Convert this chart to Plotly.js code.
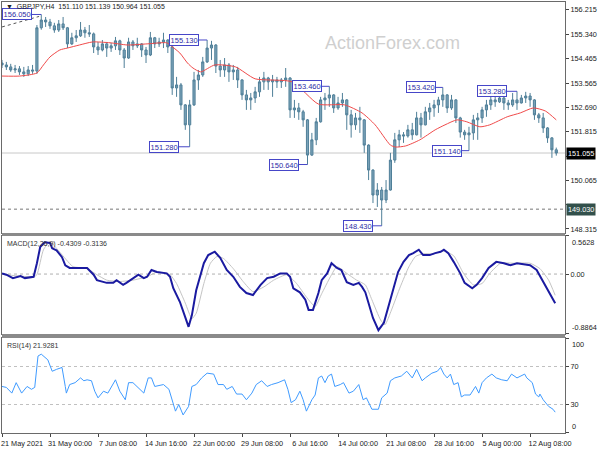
<!DOCTYPE html>
<html><head><meta charset="utf-8">
<script src="https://cdn.plot.ly/plotly-3.0.1.min.js"></script>
<style>html,body{margin:0;padding:0;background:#fff}#chart{width:600px;height:450px}</style>
</head><body><div id="chart"></div>
<script>
// ---------- data ----------
const symbolTitle = "GBPJPY,H4";
const lastBarOHLC = [151.110, 151.139, 150.964, 151.055];
const barsPerCandle = 4;           // each candle below aggregates 4 H4 bars
const opens = [154.30,154.23,154.16,154.05,154.09,153.98,153.91,154.05,154.01,155.57,
155.85,155.78,155.64,155.49,155.71,155.57,154.99,155.21,155.28,155.49,
155.39,155.35,154.88,154.77,154.99,154.84,154.92,155.10,154.77,154.48,
155.06,154.92,154.99,154.77,154.59,155.21,154.99,155.06,155.13,154.88,
153.40,153.51,152.79,152.07,152.79,153.69,153.87,154.34,154.84,154.95,
154.19,154.05,154.23,153.98,154.05,153.69,153.15,152.97,153.04,153.26,
153.62,153.76,153.62,153.69,153.62,153.69,153.76,152.61,152.68,152.54,
152.25,150.98,151.53,152.18,152.97,153.04,153.15,152.68,152.86,152.97,
152.43,152.07,152.32,152.25,151.34,150.44,149.54,149.72,149.36,149.72,
150.80,151.53,151.71,151.67,151.89,151.71,152.32,152.07,152.54,152.68,
152.79,152.97,153.15,152.68,152.97,152.32,151.81,151.71,151.78,152.25,
152.32,152.61,152.79,152.97,152.90,153.04,152.86,152.79,152.97,152.86,
153.04,153.11,152.97,152.43,152.32,151.96,151.60,151.17];
const highs = [154.41,154.34,154.27,154.23,154.19,154.16,154.19,154.23,155.67,156.05,
155.96,155.89,155.75,155.85,155.96,155.60,155.39,155.49,155.78,155.60,
155.67,155.40,155.06,155.13,155.06,155.03,155.24,155.14,154.84,155.21,
155.13,155.21,155.02,154.88,155.42,155.24,155.21,155.39,155.16,154.95,
153.80,153.58,152.82,152.97,153.98,154.05,154.52,155.13,155.10,154.98,
154.41,154.48,154.30,154.23,154.16,153.72,153.33,153.22,153.44,153.80,
153.98,153.80,153.87,153.80,153.76,154.12,153.79,152.97,152.86,152.61,
152.28,151.78,152.32,153.08,153.22,153.46,153.18,153.08,153.22,153.00,
152.61,152.50,152.72,152.28,151.37,150.47,149.97,149.83,150.08,151.06,
151.78,151.89,151.81,152.07,152.14,152.54,152.50,152.72,152.86,152.97,
153.08,153.42,153.18,153.15,153.00,152.36,151.89,152.00,152.43,152.50,
152.72,152.97,153.08,153.08,153.22,153.08,152.97,153.22,153.28,153.15,
153.26,153.22,153.00,152.50,152.50,151.99,151.63,151.25];
const lows = [154.12,154.05,153.98,153.94,153.87,153.80,153.83,153.91,153.91,155.50,
155.60,155.53,155.39,155.42,155.49,154.84,154.95,155.06,155.24,155.21,
155.24,154.66,154.59,154.72,154.52,154.70,154.77,154.59,154.12,154.45,
154.77,154.84,154.52,154.30,154.55,154.84,154.88,154.84,154.66,153.15,
153.08,152.61,151.89,151.28,152.75,153.33,153.80,154.30,154.41,153.94,
153.80,153.80,153.62,153.69,153.40,152.97,152.61,152.61,152.86,153.08,
153.33,153.33,153.08,153.40,153.40,153.44,152.32,152.32,152.25,152.00,
150.64,150.95,151.34,152.15,152.61,152.72,152.50,152.61,152.72,151.89,
151.61,151.89,151.78,151.06,150.08,149.25,149.11,148.43,149.25,149.70,
150.70,151.27,151.42,151.61,151.53,151.69,151.61,152.05,152.25,152.36,
152.50,152.72,152.50,152.61,152.14,151.61,151.53,151.14,151.53,151.53,
152.14,152.36,152.61,152.72,152.86,152.61,152.61,152.72,152.61,152.84,
152.86,152.72,152.25,152.14,151.78,151.42,150.88,150.96];
const closes = [154.23,154.16,154.05,154.09,153.98,153.91,154.05,154.01,155.57,155.85,
155.78,155.64,155.49,155.71,155.57,154.99,155.21,155.28,155.49,155.39,
155.35,154.88,154.77,154.99,154.84,154.92,155.10,154.77,154.48,155.06,
154.92,154.99,154.77,154.59,155.21,154.99,155.06,155.13,154.88,153.40,
153.51,152.79,152.07,152.79,153.69,153.87,154.34,154.84,154.95,154.19,
154.05,154.23,153.98,154.05,153.69,153.15,152.97,153.04,153.26,153.62,
153.76,153.62,153.69,153.62,153.69,153.76,152.61,152.68,152.54,152.25,
150.98,151.53,152.18,152.97,153.04,153.15,152.68,152.86,152.97,152.43,
152.07,152.32,152.25,151.34,150.44,149.54,149.72,149.36,149.72,150.80,
151.53,151.71,151.67,151.89,151.71,152.32,152.07,152.54,152.68,152.79,
152.97,153.15,152.68,152.97,152.32,151.81,151.71,151.78,152.25,152.32,
152.61,152.79,152.97,152.90,153.04,152.86,152.79,152.97,152.86,153.04,
153.11,152.97,152.43,152.32,151.96,151.60,151.17,151.055];

// moving average (bar index, price)
const maBars = [0,16,32,38,44,53,60,71,83,99,115,133,151,154,163,170,175,182,195,214,232,266,290,314,330,342,356,361,370,383,397,406,417,426,438,447,463,475,487,498,508];
const maValues = [153.83,153.83,153.94,154.23,154.52,154.77,154.84,154.95,155.06,155.03,154.95,154.99,155.03,154.95,154.66,154.30,154.12,153.98,154.23,154.16,153.73,153.62,152.82,152.79,152.50,152.07,151.34,151.27,151.31,151.53,151.89,152.07,152.25,152.18,152.00,152.07,152.36,152.50,152.68,152.57,152.25];

// MACD main line (bar index, value)
const macdBars = [0,4,10,17,21,29,32,35,39,44,46,50,55,58,62,72,78,84,87,96,102,105,111,114,120,125,130,133,137,142,151,154,157,163,168,171,174,178,185,189,195,200,206,212,218,224,230,237,243,249,255,261,264,267,273,278,281,285,290,293,298,302,307,311,316,322,327,330,333,336,340,345,350,354,359,363,368,373,377,382,386,392,397,402,405,409,414,420,424,431,435,440,446,453,460,466,472,484,490,495,501,507];
const macdValues = [0.01,-0.01,-0.06,-0.03,-0.06,-0.04,0.16,0.40,0.47,0.46,0.38,0.35,0.25,0.13,0.09,0.09,0.09,-0.01,-0.09,-0.13,-0.13,-0.09,-0.16,-0.13,-0.06,-0.01,-0.06,-0.04,0.06,0.03,0.01,-0.04,-0.21,-0.41,-0.64,-0.78,-0.61,-0.24,0.16,0.28,0.33,0.24,0.06,-0.04,-0.19,-0.28,-0.31,-0.16,-0.06,-0.04,0.01,0.01,-0.04,-0.21,-0.27,-0.38,-0.53,-0.53,-0.28,-0.09,0.01,0.16,0.09,0.06,-0.12,-0.16,-0.13,-0.19,-0.27,-0.43,-0.65,-0.83,-0.72,-0.49,-0.19,0.03,0.18,0.28,0.31,0.36,0.28,0.28,0.31,0.33,0.36,0.31,0.18,0.01,-0.13,-0.21,-0.16,-0.06,0.09,0.18,0.16,0.13,0.16,0.13,0.06,-0.09,-0.27,-0.4309];

// MACD signal line (bar index, value)
const signalBars = [0,4,29,32,38,44,50,59,65,78,87,96,108,120,133,142,154,160,168,174,178,185,191,197,203,212,221,230,240,249,261,270,279,287,293,301,307,316,325,333,339,347,351,357,365,373,379,386,395,405,414,423,432,440,447,457,469,484,493,501,507];
const signalValues = [0.01,-0.01,-0.04,-0.01,0.36,0.48,0.38,0.21,0.11,0.08,-0.01,-0.09,-0.11,-0.09,-0.04,0.03,-0.01,-0.14,-0.43,-0.66,-0.58,-0.14,0.16,0.26,0.23,0.08,-0.11,-0.26,-0.19,-0.09,-0.01,-0.14,-0.34,-0.48,-0.29,-0.04,0.11,0.01,-0.09,-0.16,-0.38,-0.68,-0.75,-0.53,-0.19,0.11,0.26,0.30,0.30,0.34,0.27,0.01,-0.16,-0.14,0.01,0.16,0.16,0.16,0.08,-0.09,-0.3136];

// RSI(14) (bar index, value)
const rsiBars = [0,4,9,13,18,23,27,30,33,36,42,46,50,55,58,59,62,67,72,75,78,82,85,88,93,97,104,108,113,116,120,125,130,134,137,140,148,153,156,159,162,166,171,174,178,183,188,194,198,203,206,211,215,220,224,229,233,238,243,247,253,259,262,265,269,273,276,279,284,287,290,293,296,299,302,305,310,313,318,322,327,331,334,339,345,348,353,356,360,366,371,376,380,385,388,394,399,402,405,408,411,414,418,421,424,429,434,437,440,444,449,453,458,463,467,472,479,481,486,489,492,493,496,501,505,507];
const rsiValues = [49,48,42,53,42,49,46,48,81,83,77,65,67,69,49,42,51,53,58,55,56,55,44,37,44,42,56,44,35,53,53,48,42,58,58,49,51,46,33,23,30,19,28,49,51,58,63,62,51,51,46,49,41,41,35,42,51,55,49,51,53,56,46,32,35,44,35,23,35,40,58,60,53,60,62,49,51,53,42,44,51,35,37,25,25,37,42,55,58,60,65,58,67,55,58,63,65,69,62,58,62,51,53,38,40,40,49,42,53,58,62,58,56,55,62,58,62,58,53,41,38,41,35,28,25,21.9281];

const trendBars = [0, 34];
const trendPrices = [155.60, 155.98];

const swingIdx  = [9, 47, 43, 70, 75, 87, 101, 107, 118];
const swingKind = ['H','H','L','L','H','L','H','L','H'];

const priceTicks = [156.215,155.340,154.465,153.565,152.690,151.815,150.940,150.065,149.190,148.315];
const macdRange = [-0.8864, 0.5628];
const rsiLevels = [70, 30];
const timeTickBars = [0,44,88,132,176,220,264,308,352,396,440,484];
const timeTickLabels = ["21 May 2021","31 May 00:00","7 Jun 08:00","14 Jun 16:00","22 Jun 00:00","29 Jun 08:00","6 Jul 16:00","14 Jul 00:00","21 Jul 08:00","28 Jul 16:00","5 Aug 00:00","12 Aug 08:00"];
const currentPrice = 151.055;
const supportLevel = 149.030;
const macdLast = [-0.4309, -0.3136];
const rsiLast = 21.9281;

// ---------- drawing ----------
const FONT = 'Liberation Sans, Arial, sans-serif';
const candleX = opens.map((_, i) => i * barsPerCandle);
const barColor = '#4f7f98';
const swingColor = '#4646c8';
const swingOffsets = [-24,-23,-26,-23.5,-22,-24,-22,-21.5,-25];

const traces = [
  {type:'scatter', mode:'lines', x:trendBars, y:trendPrices, xaxis:'x', yaxis:'y',
   line:{color:'#555', width:1, dash:'dot'}, hoverinfo:'skip'},
  {type:'candlestick', x:candleX, open:opens, high:highs, low:lows, close:closes, xaxis:'x', yaxis:'y',
   increasing:{line:{color:barColor, width:1}, fillcolor:'#7aa2b8'},
   decreasing:{line:{color:barColor, width:1}, fillcolor:'#7aa2b8'},
   hoverinfo:'skip'},
  {type:'scatter', mode:'lines', x:maBars, y:maValues, xaxis:'x', yaxis:'y',
   line:{color:'#f04a4a', width:1, shape:'spline', smoothing:0.6}, hoverinfo:'skip'},
  {type:'scatter', mode:'lines', x:signalBars, y:signalValues, xaxis:'x2', yaxis:'y2',
   line:{color:'#c4c4c4', width:1, shape:'spline', smoothing:0.5}, hoverinfo:'skip'},
  {type:'scatter', mode:'lines', x:macdBars, y:macdValues, xaxis:'x2', yaxis:'y2',
   line:{color:'#1a1aa0', width:2}, hoverinfo:'skip'},
  {type:'scatter', mode:'lines', x:rsiBars, y:rsiValues, xaxis:'x3', yaxis:'y3',
   line:{color:'#3f9bff', width:1}, hoverinfo:'skip'}
];

const viewRange = [0, 516];
const lineCol = '#6a6a6a';
const baseX = {range:viewRange, showgrid:false, zeroline:false, showline:true, mirror:true,
  linecolor:lineCol, linewidth:1, fixedrange:true, rangeslider:{visible:false}};
const baseY = {side:'right', showgrid:false, zeroline:false, showline:true, mirror:true,
  linecolor:lineCol, linewidth:1, ticks:'outside', ticklen:3, tickcolor:'#444',
  tickfont:{family:FONT, size:7.3, color:'#222'}, fixedrange:true};

// tick labels that sit under the two price tags are covered in the reference
const hiddenTickLabels = [150.940, 149.190];

const annotations = [];
// swing labels
swingIdx.forEach((k, i) => {
  const p = swingKind[i] === 'H' ? highs[k] : lows[k];
  annotations.push({x:candleX[k], y:p, xref:'x', yref:'y', text:p.toFixed(3),
    showarrow:true, arrowhead:0, arrowwidth:1, arrowcolor:swingColor, ax:swingOffsets[i], ay:0,
    font:{family:FONT, size:7.5, color:'#2c2ca6'}, bgcolor:'#ffffff', bordercolor:swingColor,
    borderwidth:1, borderpad:0.6});
});
// header
annotations.push({xref:'paper', yref:'y domain', x:0, y:1, xanchor:'left', yanchor:'top', xshift:2, yshift:1,
  text:'\u25BC  ' + symbolTitle + '  ' + lastBarOHLC.map(v=>v.toFixed(3)).join(' '), showarrow:false,
  font:{family:FONT, size:7, color:'#222'}});
// watermark
annotations.push({xref:'paper', yref:'y domain', x:0.693, y:0.8225, xanchor:'center', yanchor:'middle',
  text:'ActionForex.com', showarrow:false, font:{family:FONT, size:18, color:'#cfcfcf'}});
// MACD / RSI titles
annotations.push({xref:'paper', yref:'y2 domain', x:0, y:1, xanchor:'left', yanchor:'top', xshift:3, yshift:-2,
  text:'MACD(12,26,9) ' + macdLast[0].toFixed(4) + ' ' + macdLast[1].toFixed(4), showarrow:false,
  font:{family:FONT, size:7, color:'#333'}});
annotations.push({xref:'paper', yref:'y3 domain', x:0, y:1, xanchor:'left', yanchor:'top', xshift:3, yshift:-2,
  text:'RSI(14) ' + rsiLast.toFixed(4), showarrow:false, font:{family:FONT, size:7, color:'#333'}});
// edge labels of sub-panels
const edgeLbl = (yref, y, anchor, txt) => annotations.push({xref:'paper', yref:yref, x:1, y:y, xanchor:'left',
  yanchor:anchor, xshift:5, text:txt, showarrow:false, font:{family:FONT, size:7.3, color:'#222'}});
edgeLbl('y2', macdRange[1], 'top', macdRange[1].toFixed(4));
edgeLbl('y2', macdRange[0], 'bottom', macdRange[0].toFixed(4));
edgeLbl('y3', 100, 'top', '100');
edgeLbl('y3', 0, 'bottom', '0');
// price tags
annotations.push({xref:'paper', yref:'y', x:1, y:currentPrice, xanchor:'left', xshift:1, text:currentPrice.toFixed(3),
  showarrow:false, bgcolor:'#000', borderpad:1, font:{family:FONT, size:7.3, color:'#fff'}});
annotations.push({xref:'paper', yref:'y', x:1, y:supportLevel, xanchor:'left', xshift:1, text:supportLevel.toFixed(3),
  showarrow:false, bgcolor:'#32504b', borderpad:1, font:{family:FONT, size:7.3, color:'#fff'}});

const shapes = [
  {type:'line', xref:'paper', x0:0, x1:1, yref:'y', y0:currentPrice, y1:currentPrice, layer:'below', line:{color:'#c8c8c8', width:1}},
  {type:'line', xref:'paper', x0:0, x1:1, yref:'y', y0:supportLevel, y1:supportLevel, layer:'below', line:{color:'#777', width:1, dash:'dot'}},
  {type:'line', xref:'paper', x0:0, x1:1, yref:'y2', y0:0, y1:0, layer:'below', line:{color:'#b0b0b0', width:1, dash:'dot'}},
  ...rsiLevels.map(v => ({type:'line', xref:'paper', x0:0, x1:1, yref:'y3', y0:v, y1:v, layer:'below', line:{color:'#c0c0c0', width:1, dash:'dot'}})),
  {type:'rect', xref:'paper', x0:0, x1:1, yref:'paper', y0:0.4571, y1:0.4640, line:{width:0}, fillcolor:'#8a8a8a'},
  {type:'rect', xref:'paper', x0:0, x1:1, yref:'paper', y0:0.2204, y1:0.2297, line:{width:0}, fillcolor:'#8a8a8a'}
];

const layout = {
  width:600, height:450, margin:{l:2, r:35, t:2, b:17},
  paper_bgcolor:'#ffffff', plot_bgcolor:'#ffffff', showlegend:false, hovermode:false,
  font:{family:FONT, size:7.3, color:'#222'},
  xaxis: Object.assign({}, baseX, {anchor:'y', showticklabels:false, ticks:''}),
  yaxis: Object.assign({}, baseY, {domain:[0.464, 1], anchor:'x', range:[148.17, 156.50],
    tickvals:priceTicks, ticktext:priceTicks.map(v => hiddenTickLabels.includes(v) ? '' : v.toFixed(3))}),
  xaxis2: Object.assign({}, baseX, {anchor:'y2', showticklabels:false, ticks:''}),
  yaxis2: Object.assign({}, baseY, {domain:[0.2297, 0.4571], anchor:'x2', range:macdRange,
    tickvals:[macdRange[1], 0, macdRange[0]], ticktext:['', '0.00', '']}),
  xaxis3: Object.assign({}, baseX, {anchor:'y3', tickvals:timeTickBars, ticktext:timeTickLabels,
    ticks:'outside', ticklen:3, tickcolor:'#444', ticklabelshift:20,
    tickfont:{family:FONT, size:7.3, color:'#222'}}),
  yaxis3: Object.assign({}, baseY, {domain:[0, 0.2204], anchor:'x3', range:[0, 100],
    tickvals:[100, 70, 30, 0], ticktext:['', '70', '30', '']}),
  annotations: annotations,
  shapes: shapes
};

Plotly.newPlot('chart', traces, layout, {displayModeBar:false, staticPlot:true});
</script>
</body></html>
